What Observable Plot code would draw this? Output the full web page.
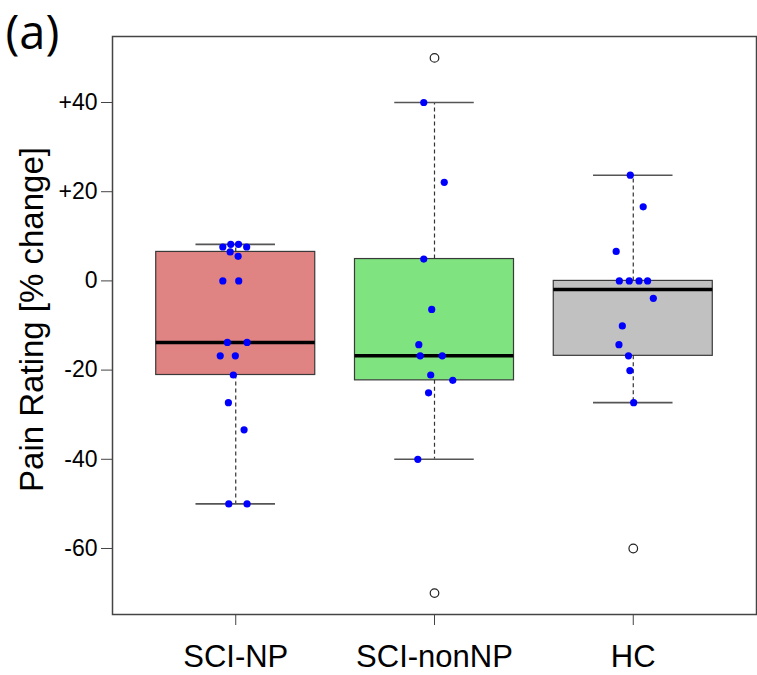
<!DOCTYPE html>
<html><head><meta charset="utf-8">
<script src="https://cdn.jsdelivr.net/npm/d3@7"></script>
<script src="https://cdn.jsdelivr.net/npm/@observablehq/plot@0.6"></script>
<style>body{margin:0;background:#fff}#chart{width:757px;height:675px}</style>
</head><body><div id="chart"></div>
<script>
// Categories
const groups = ["SCI-NP", "SCI-nonNP", "HC"];
const boxFills = ["#E08383", "#7FE47F", "#C1C1C1"];

// Individual observations (blue dots) and their horizontal jitter (in category units)
const npValues = [8.2, 8.2, 7.6, 7.6, 6.5, 5.5, 0, 0, -13.8, -13.8, -16.8, -16.8, -21.1, -27.3, -33.4, -50, -50];
const npJitter = [-0.025, 0.014, -0.065, 0.055, -0.028, 0.012, -0.065, 0.015, -0.042, 0.057, -0.078, -0.002, -0.012, -0.037, 0.042, -0.035, 0.057];

const nonNpValues = [40, 22.1, 4.9, -6.4, -14.3, -16.8, -16.8, -21.1, -22.3, -25.1, -40];
const nonNpJitter = [-0.054, 0.049, -0.054, -0.014, -0.079, -0.072, 0.039, -0.019, 0.092, -0.030, -0.084];

const hcValues = [23.7, 16.6, 6.6, 0, 0, 0, 0, -3.9, -10.1, -14.3, -16.8, -20.1, -27.3];
const hcJitter = [-0.015, 0.050, -0.086, -0.070, -0.020, 0.029, 0.072, 0.101, -0.055, -0.072, -0.024, -0.017, 0.002];

// Observations shown only as boxplot outliers
const npOutliers = [];
const nonNpOutliers = [50, -70];
const hcOutliers = [-60];

// Y axis ticks
const yTicks = [-60, -40, -20, 0, 20, 40];

const allValues = [npValues, nonNpValues, hcValues];
const allJitter = [npJitter, nonNpJitter, hcJitter];
const allOutliers = [npOutliers, nonNpOutliers, hcOutliers];

// R-style fivenum (Tukey hinges)
function fivenum(arr) {
  const x = arr.slice().sort((a, b) => a - b);
  const n = x.length;
  const n4 = Math.floor((n + 3) / 2) / 2;
  const d = [1, n4, (n + 1) / 2, n + 1 - n4, n];
  return d.map(v => 0.5 * (x[Math.floor(v) - 1] + x[Math.ceil(v) - 1]));
}

const stats = groups.map((g, i) => {
  const all = allValues[i].concat(allOutliers[i]);
  const f = fivenum(all);
  const iqr = f[3] - f[1];
  const lo = d3.min(all.filter(v => v >= f[1] - 1.5 * iqr));
  const hi = d3.max(all.filter(v => v <= f[3] + 1.5 * iqr));
  return {group: g, pos: i + 1, q1: f[1], med: f[2], q3: f[3], lo, hi};
});

const points = groups.flatMap((g, i) =>
  allValues[i].map((v, j) => ({group: g, pos: i + 1 + allJitter[i][j], v})));
const outliers = groups.flatMap((g, i) =>
  allOutliers[i].map(v => ({group: g, pos: i + 1, v})));

const font = "'Liberation Sans', Arial, sans-serif";

const chart = Plot.plot({
  width: 757,
  height: 675,
  marginLeft: 112,
  marginRight: 1,
  marginTop: 36,
  marginBottom: 61,
  style: {fontFamily: font, background: "white", color: "black", overflow: "visible"},
  x: {domain: [0.38, 3.62], axis: null},
  y: {domain: [-74.8, 54.8], axis: null},
  color: {domain: groups, range: boxFills},
  marks: [
    Plot.rect(stats, {x1: d => d.pos - 0.4, x2: d => d.pos + 0.4, y1: "q1", y2: "q3", fill: "group", stroke: "#3a3a3a", strokeWidth: 1.2}),
    Plot.ruleX(stats, {x: "pos", y1: "q3", y2: "hi", stroke: "#333", strokeWidth: 1.2, strokeDasharray: "4,3"}),
    Plot.ruleX(stats, {x: "pos", y1: "q1", y2: "lo", stroke: "#333", strokeWidth: 1.2, strokeDasharray: "4,3"}),
    Plot.ruleY(stats, {y: "hi", x1: d => d.pos - 0.2, x2: d => d.pos + 0.2, stroke: "#555", strokeWidth: 1.6}),
    Plot.ruleY(stats, {y: "lo", x1: d => d.pos - 0.2, x2: d => d.pos + 0.2, stroke: "#555", strokeWidth: 1.6}),
    Plot.ruleY(stats, {y: "med", x1: d => d.pos - 0.4, x2: d => d.pos + 0.4, stroke: "black", strokeWidth: 3.5}),
    Plot.dot(outliers, {x: "pos", y: "v", r: 4.3, stroke: "#222", strokeWidth: 1.2, fill: "white"}),
    Plot.dot(points, {x: "pos", y: "v", r: 3.6, fill: "#0000FF", stroke: "none"}),
    Plot.frame({stroke: "#444", strokeWidth: 1.5}),
    Plot.axisY({ticks: yTicks, tickSize: 11, tickPadding: 4, fontSize: 23, label: null,
      tickFormat: d => d > 0 ? "+" + d : String(d), stroke: "#444"}),
    Plot.axisX({ticks: [1, 2, 3], tickSize: 11, tickPadding: 19, fontSize: 31, label: null,
      tickFormat: d => groups[d - 1], stroke: "#444"}),
    Plot.text(["Pain Rating [% change]"], {frameAnchor: "left", textAnchor: "middle", lineAnchor: "middle", rotate: -90, dx: -80, dy: -6, fontSize: 33, fill: "black"}),
    Plot.text(["(a)"], {frameAnchor: "top-left", textAnchor: "start", lineAnchor: "middle", dx: -107, dy: -3, fontSize: 47, fontFamily: "'Open Sans', sans-serif", fill: "black"})
  ]
});
document.getElementById("chart").appendChild(chart);
</script>
</body></html>
